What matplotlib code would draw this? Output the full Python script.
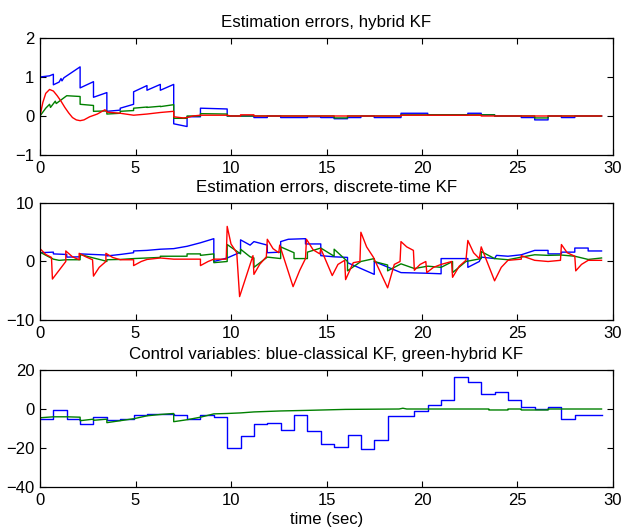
import matplotlib

matplotlib.use("Agg")
import matplotlib.pyplot as plt

plt.rcParams["font.family"] = ["Liberation Sans", "DejaVu Sans"]

# (time, value) breakpoints
hyb_blue = [
    (0, 1.0), (0.5, 1.03), (0.7, 1.07), (0.7, 0.8), (1.0, 0.87), (1.1, 0.96), (1.15, 0.9),
    (1.25, 0.98), (2.1, 1.26), (2.1, 0.72), (2.8, 0.88), (2.8, 0.48), (3.5, 0.6), (3.5, 0.12),
    (4.2, 0.15), (4.2, 0.2), (4.9, 0.3), (4.9, 0.62), (5.6, 0.78), (5.6, 0.66), (6.3, 0.81),
    (6.3, 0.66), (7.0, 0.81), (7.0, -0.2), (7.7, -0.27), (7.7, -0.02), (8.4, -0.02),
    (8.4, 0.2), (9.8, 0.18), (9.8, 0.0), (11.2, 0.0), (11.2, -0.04), (11.9, -0.04),
    (11.9, 0.0), (12.6, 0.0), (12.6, -0.04), (14.0, -0.04), (14.0, -0.02), (14.7, -0.02),
    (14.7, -0.04), (15.4, -0.04), (15.4, -0.07), (16.1, -0.07), (16.1, -0.04), (16.8, -0.04),
    (16.8, 0.0), (17.5, 0.0), (17.5, -0.04), (18.9, -0.04), (18.9, 0.07), (20.3, 0.07),
    (20.3, 0.03), (22.4, 0.03), (22.4, 0.07), (23.1, 0.07), (23.1, 0.03), (23.8, 0.03),
    (23.8, 0.0), (25.2, 0.0), (25.2, -0.04), (25.9, -0.04), (25.9, -0.1), (26.6, -0.1),
    (26.6, 0.0), (27.3, 0.0), (27.3, -0.04), (28.0, -0.04), (28.0, 0.0), (29.4, 0.0),
]
hyb_green = [
    (0, 0.0), (0.3, 0.2), (0.5, 0.3), (0.55, 0.22), (0.8, 0.38), (0.85, 0.32), (1.4, 0.52),
    (2.1, 0.5), (2.1, 0.3), (2.8, 0.27), (2.8, 0.12), (3.5, 0.13), (3.5, 0.05), (4.2, 0.07),
    (4.2, 0.12), (4.9, 0.14), (4.9, 0.2), (5.6, 0.23), (5.6, 0.22), (6.3, 0.25), (6.3, 0.24),
    (7.0, 0.29), (7.0, -0.06), (7.7, -0.06), (7.7, 0.0), (8.4, 0.0), (8.4, 0.06), (9.8, 0.05),
    (9.8, 0.0), (15.4, 0.0), (15.4, -0.05), (16.1, -0.05), (16.1, 0.0), (18.9, 0.0),
    (18.9, 0.03), (23.8, 0.03), (23.8, 0.0), (25.9, 0.0), (25.9, -0.05), (26.6, -0.05),
    (26.6, 0.0), (29.4, 0.0),
]
hyb_red = [
    (0, 0.0), (0.15, 0.35), (0.3, 0.58), (0.5, 0.68), (0.7, 0.64), (0.9, 0.52), (1.1, 0.38),
    (1.3, 0.22), (1.5, 0.08), (1.7, -0.04), (1.9, -0.1), (2.1, -0.12), (2.3, -0.1),
    (2.6, -0.02), (3.0, 0.05), (3.4, 0.16), (3.5, 0.1), (4.2, 0.07), (4.9, 0.02), (5.6, 0.05),
    (6.3, 0.09), (7.0, 0.12), (7.0, -0.02), (7.5, -0.05), (7.7, -0.04), (8.0, 0.0),
    (8.4, 0.02), (9.8, 0.02), (10.0, 0.0), (10.5, 0.0), (10.5, 0.03), (11.2, 0.03),
    (11.2, 0.0), (18.9, 0.0), (18.9, 0.02), (23.1, 0.02), (23.1, 0.0), (29.4, 0.0),
]

dkf_blue = [
    (0, 1.5), (0.7, 1.6), (0.7, 1.3), (1.4, 1.2), (1.4, 0.75), (2.1, 0.8), (2.1, 1.3),
    (3.5, 1.1), (3.5, 0.95), (4.2, 1.2), (4.9, 1.5), (4.9, 1.8), (5.6, 1.9), (6.3, 2.1),
    (7.0, 2.2), (7.7, 2.6), (8.4, 3.2), (9.1, 3.9), (9.1, 0.0), (9.8, 0.6), (10.5, 1.6),
    (10.5, 3.7), (11.0, 2.8), (11.2, 3.4), (11.9, 2.8), (11.9, 1.5), (12.6, 1.6), (12.6, 3.4),
    (13.0, 3.8), (13.9, 3.9), (13.9, 3.0), (14.7, 3.0), (14.7, 1.0), (15.4, 0.8), (16.1, 0.7),
    (16.1, -0.2), (17.5, -2.2), (17.5, 0.0), (18.9, -1.9), (20.2, -2.0), (21.0, -2.1),
    (21.0, 0.5), (22.4, 0.5), (22.4, -1.0), (23.0, 0.0), (23.1, 0.75), (23.8, 0.5),
    (23.9, 1.05), (24.5, 0.9), (25.2, 1.15), (25.9, 1.9), (26.6, 1.9), (26.6, 1.3),
    (27.3, 1.3), (27.3, 1.6), (28.0, 1.6), (28.0, 2.3), (28.7, 2.3), (28.7, 1.8), (29.4, 1.8),
]
dkf_green = [
    (0, 1.6), (0.4, 0.9), (0.7, 0.4), (1.0, 0.2), (1.4, 0.3), (2.1, 0.3), (2.1, 1.2),
    (2.8, 0.6), (3.3, 0.2), (3.5, 0.0), (3.5, 0.3), (4.2, 0.35), (4.9, 0.5), (5.6, 0.6),
    (6.3, 0.7), (6.3, 0.9), (7.7, 0.9), (7.7, 1.3), (8.4, 1.3), (8.4, 1.05), (9.1, 1.3),
    (9.1, -0.2), (9.8, 0.0), (9.8, 2.9), (10.5, 1.3), (10.5, 2.1), (11.0, 0.8), (11.2, 0.6),
    (11.2, -1.0), (11.9, 0.75), (12.6, 0.5), (12.6, 2.5), (13.3, 1.5), (13.3, 0.5),
    (14.0, 0.5), (14.0, 1.6), (14.7, 2.3), (15.4, 0.9), (15.4, 2.1), (16.1, 0.0),
    (16.1, -1.6), (16.8, 0.0), (17.5, 0.5), (17.5, 0.0), (18.2, -0.6), (18.2, -1.6),
    (18.9, -0.4), (19.6, -1.2), (20.3, -0.8), (21.0, -1.0), (21.6, 0.0), (21.6, -1.9),
    (22.3, 0.0), (23.1, 0.5), (23.1, 1.7), (23.8, 0.5), (24.5, 0.3), (25.2, 0.75),
    (25.9, 1.15), (26.6, 1.05), (27.3, 1.1), (28.0, 0.9), (28.7, 0.35), (29.4, 0.6),
]
dkf_red = [
    (0, 2.2), (0.3, 1.2), (0.6, 0.7), (0.65, -3.0), (1.0, -1.5), (1.35, 0.0), (1.35, 1.8),
    (1.7, 0.8), (2.05, 0.3), (2.05, 1.4), (2.4, 0.8), (2.75, 0.3), (2.8, -2.5), (3.1, -1.0),
    (3.45, 0.0), (3.45, 1.4), (3.8, 0.7), (4.2, 0.3), (4.9, 0.3), (4.9, -0.7), (5.3, 0.0),
    (5.6, 0.35), (6.3, 0.6), (7.0, 0.4), (8.4, 0.4), (8.4, -0.7), (8.8, 0.0), (9.1, 0.4),
    (9.75, 0.4), (9.8, 6.0), (10.0, 3.0), (10.3, 1.5), (10.45, -6.0), (10.8, -2.5),
    (11.15, 1.0), (11.2, -2.2), (11.5, -0.5), (11.85, 0.8), (11.9, 3.8), (12.2, 2.2),
    (12.5, 1.5), (12.55, 2.8), (13.25, -4.3), (13.6, -1.5), (13.9, 0.5), (13.95, 3.8),
    (14.3, 2.0), (14.65, 1.3), (14.7, 2.2), (15.3, -2.4), (15.6, -0.5), (15.95, 0.2),
    (16.0, -3.1), (16.4, -0.2), (16.75, 0.0), (16.8, 5.0), (17.1, 2.5), (17.45, 0.75),
    (18.2, -4.5), (18.55, -0.5), (18.85, 0.0), (18.9, 3.4), (19.2, 2.5), (19.55, 1.9),
    (19.6, -1.5), (19.9, -0.5), (20.2, 0.0), (20.25, -1.9), (20.6, -1.0), (21.0, -0.5),
    (21.55, 0.0), (21.6, -2.7), (21.95, -0.8), (22.3, 0.2), (22.4, 3.6), (22.7, 1.5),
    (23.0, 0.5), (23.1, 2.5), (23.8, -3.3), (24.15, -1.0), (24.5, 0.2), (25.2, 0.4),
    (25.2, 1.0), (25.9, 0.2), (26.6, 0.0), (27.25, 0.2), (27.3, 2.9), (27.6, 1.5),
    (28.0, 0.9), (28.05, -1.6), (28.35, -0.5), (28.7, 0.2), (29.4, 0.2),
]

# control signals, held over each 0.7 s sample
u_period = 0.7
u_classical = [
    -5.1, -0.5, -5.1, -7.7, -3.9, -5.5, -5.1, -2.9, -2.6, -2.6, -3.1, -5.1, -3.1, -3.9,
    -20.0, -13.8, -7.7, -7.2, -10.6, -3.1, -11.1, -18.0, -19.3, -13.2, -20.7, -16.0,
    -3.8, -3.8, -1.2, 2.2, 4.8, 16.2, 13.7, 7.5, 8.7, 4.8, 0.9, 0.2, 0.9, -5.1, -3.1, -3.1,
]
u_hybrid = [
    (0, -4.5), (0.7, -4.0), (1.4, -4.0), (2.1, -4.2), (2.1, -6.0), (2.8, -5.2), (2.8, -5.8),
    (3.5, -5.2), (3.5, -7.0), (4.2, -6.0), (4.9, -5.0), (5.6, -3.5), (6.3, -2.8), (7.0, -2.3),
    (7.0, -6.5), (7.7, -5.5), (8.4, -4.2), (9.1, -2.5), (9.8, -2.3), (10.5, -2.0),
    (11.2, -1.5), (12.6, -1.0), (14.0, -0.7), (16.0, -0.2), (18.8, 0.0), (19.0, 0.4),
    (19.2, 0.0), (23.5, 0.0), (23.5, -0.5), (24.5, -0.5), (24.5, 0.0), (25.2, 0.0),
    (25.2, -0.5), (26.6, -0.5), (26.6, 0.0), (29.4, 0.0),
]

BLUE, GREEN, RED = "#0000ff", "#008000", "#ff0000"

fig = plt.figure(figsize=(6.33, 5.27), dpi=100)
left, width, height = 0.0632, 0.9052, 0.222
axes = [fig.add_axes([left, b, width, height]) for b in (0.7059, 0.3928, 0.0759)]


def draw(ax, series, color):
    ts, vs = zip(*series)
    ax.plot(ts, vs, color=color, lw=1.0)


for series, color in ((hyb_blue, BLUE), (hyb_green, GREEN), (hyb_red, RED)):
    draw(axes[0], series, color)
for series, color in ((dkf_blue, BLUE), (dkf_green, GREEN), (dkf_red, RED)):
    draw(axes[1], series, color)

t_u = [u_period * k for k in range(len(u_classical) + 1)]
axes[2].step(t_u, u_classical + u_classical[-1:], where="post", color=BLUE, lw=1.0)
draw(axes[2], u_hybrid, GREEN)

axes[0].set_ylim(-1, 2)
axes[0].set_yticks([-1, 0, 1, 2])
axes[1].set_ylim(-10, 10)
axes[1].set_yticks([-10, 0, 10])
axes[2].set_ylim(-40, 20)
axes[2].set_yticks([-40, -20, 0, 20])

titles = [
    "Estimation errors, hybrid KF",
    "Estimation errors, discrete-time KF",
    "Control variables: blue-classical KF, green-hybrid KF",
]
for ax, title in zip(axes, titles):
    ax.set_xlim(0, 30)
    ax.set_xticks(range(0, 31, 5))
    ax.set_title(title, fontsize=12.2, pad=8)
    ax.tick_params(direction="in", top=True, right=True, length=4, width=0.8,
                   labelsize=12, pad=4)
    for sp in ax.spines.values():
        sp.set_linewidth(0.9)

axes[2].set_xlabel("time (sec)", fontsize=12, labelpad=3)

fig.savefig("out.png", dpi=100)
